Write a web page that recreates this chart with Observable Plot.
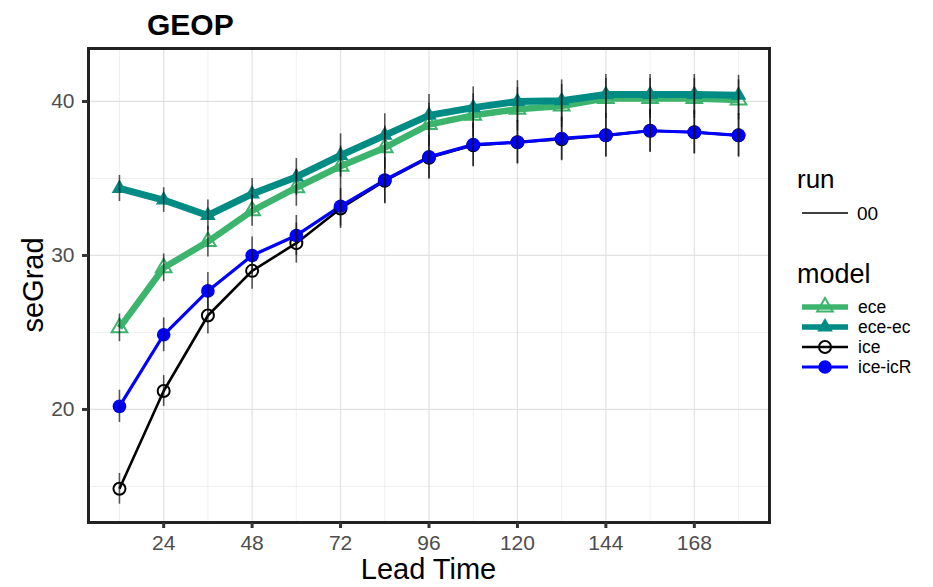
<!DOCTYPE html>
<html><head><meta charset="utf-8">
<script src="https://cdn.jsdelivr.net/npm/d3@7"></script>
<script src="https://cdn.jsdelivr.net/npm/@observablehq/plot@0.6"></script>
<style>
body{margin:0;background:#fff;font-family:"Liberation Sans",Arial,sans-serif;}
#wrap{position:relative;width:933px;height:587px;overflow:hidden;background:#fff;}
#title{position:absolute;left:147px;top:7px;font-weight:bold;font-size:30px;color:#000;line-height:36px;}
#xlab{position:absolute;left:88px;width:681px;text-align:center;top:553px;font-size:29px;color:#000;line-height:32px;}
#ylab{position:absolute;left:33px;top:285px;font-size:29px;color:#000;transform:translate(-50%,-50%) rotate(-90deg);white-space:nowrap;line-height:34px;}
#legend{position:absolute;left:780px;top:150px;}
</style></head><body>
<div id="wrap"><div id="chart"></div><div id="title">GEOP</div><div id="xlab">Lead Time</div><div id="ylab">seGrad</div><div id="legend"></div></div>
<script>
// ---- data ----
const leadTime = [12, 24, 36, 48, 60, 72, 84, 96, 108, 120, 132, 144, 156, 168, 180];
const models = ["ece", "ece-ec", "ice", "ice-icR"];
const runs = ["00"];
const ece      = [25.3, 29.2, 30.9, 32.9, 34.4, 35.8, 37.0, 38.5, 39.1, 39.5, 39.7, 40.2, 40.2, 40.2, 40.1];
const eceEc    = [34.35, 33.6, 32.6, 34.0, 35.1, 36.5, 37.8, 39.1, 39.6, 40.0, 40.05, 40.45, 40.45, 40.45, 40.4];
const ice      = [14.85, 21.2, 26.1, 29.0, 30.8, 33.05, 34.85, 36.35, 37.15, 37.35, 37.55, 37.8, 38.1, 38.0, 37.8];
const iceIcR   = [20.2, 24.85, 27.7, 30.0, 31.3, 33.2, 34.9, 36.4, 37.2, 37.35, 37.6, 37.8, 38.1, 38.0, 37.8];
const eceErr   = [0.9, 0.9, 1.0, 1.0, 1.2, 1.3, 1.4, 1.4, 1.4, 1.4, 1.4, 1.3, 1.3, 1.3, 1.3];
const eceEcErr = [0.85, 0.8, 1.0, 1.0, 1.2, 1.4, 1.4, 1.35, 1.35, 1.35, 1.35, 1.3, 1.3, 1.3, 1.3];
const iceErr   = [1.0, 1.0, 1.2, 1.2, 1.3, 1.3, 1.5, 1.4, 1.4, 1.4, 1.4, 1.4, 1.4, 1.4, 1.4];
const iceIcRErr= [1.05, 1.1, 1.2, 1.2, 1.3, 1.3, 1.5, 1.4, 1.4, 1.4, 1.4, 1.4, 1.4, 1.4, 1.4];
const xTicks = [24, 48, 72, 96, 120, 144, 168];
const xMinor = [12, 36, 60, 84, 108, 132, 156, 180];
const yTicks = [20, 30, 40];
const yMinor = [15, 25, 35];

// ---- styles ----
const styles = {
  "ece":     {color: "#3cb46e", lw: 6.5, symbol: "triangle", filled: false, r: 5.8},
  "ece-ec":  {color: "#008b84", lw: 7,   symbol: "triangle", filled: true,  r: 5.8},
  "ice":     {color: "#000000", lw: 2.6, symbol: "circle",   filled: false, r: 6},
  "ice-icR": {color: "#0000ff", lw: 3.2, symbol: "circle",   filled: true,  r: 6.8}
};
const values = {"ece": ece, "ece-ec": eceEc, "ice": ice, "ice-icR": iceIcR};
const errs = {"ece": eceErr, "ece-ec": eceEcErr, "ice": iceErr, "ice-icR": iceIcRErr};
const rows = models.flatMap(m => leadTime.map((t, i) => ({
  model: m, run: runs[0], t, v: values[m][i], lo: values[m][i] - errs[m][i], hi: values[m][i] + errs[m][i]
})));
const of = m => rows.filter(d => d.model === m);

const lineMarks = models.map(m => Plot.line(of(m), {x: "t", y: "v", stroke: styles[m].color, strokeWidth: styles[m].lw, strokeLinejoin: "round", strokeLinecap: "butt"}));
const dotMarks = models.map(m => {
  const s = styles[m];
  return Plot.dot(of(m), {x: "t", y: "v", symbol: s.symbol, r: s.r,
    fill: s.filled ? s.color : "none", stroke: s.filled ? "none" : s.color, strokeWidth: s.filled ? 0 : 2});
});

const plot = Plot.plot({
  width: 933, height: 587,
  marginLeft: 88, marginRight: 164, marginTop: 48, marginBottom: 65,
  x: {domain: [3.6, 188.4], label: null},
  y: {domain: [12.66, 43.44], label: null},
  style: {fontFamily: "Liberation Sans, Arial, sans-serif", fontSize: "21px", background: "#fff"},
  marks: [
    Plot.gridX(xMinor, {stroke: "#ececec", strokeOpacity: 1, strokeWidth: 0.8}),
    Plot.gridY(yMinor, {stroke: "#ececec", strokeOpacity: 1, strokeWidth: 0.8}),
    Plot.gridX(xTicks, {stroke: "#e2e2e2", strokeOpacity: 1, strokeWidth: 1.2}),
    Plot.gridY(yTicks, {stroke: "#e2e2e2", strokeOpacity: 1, strokeWidth: 1.2}),
    ...lineMarks,
    ...dotMarks,
    Plot.ruleX(rows, {x: "t", y1: "lo", y2: "hi", stroke: "#111", strokeOpacity: 0.7, strokeWidth: 1.6}),
    Plot.frame({stroke: "#222", strokeWidth: 3}),
    Plot.axisX(xTicks, {tickSize: 6, tickPadding: 7, stroke: "#333", strokeWidth: 3, fill: "#4d4d4d", label: null, tickFormat: d => String(d)}),
    Plot.axisY(yTicks, {tickSize: 6, tickPadding: 8, stroke: "#333", strokeWidth: 3, fill: "#4d4d4d", label: null})
  ]
});
document.getElementById("chart").appendChild(plot);

// ---- legend ----
const lg = d3.select("#legend").append("svg").attr("width", 153).attr("height", 240)
  .style("font-family", "Liberation Sans, Arial, sans-serif");
lg.append("text").attr("x", 17).attr("y", 38).attr("font-size", 26).text("run");
lg.append("line").attr("x1", 22).attr("x2", 68).attr("y1", 63).attr("y2", 63).attr("stroke", "#000").attr("stroke-width", 1.5);
lg.append("text").attr("x", 77).attr("y", 63).attr("dy", "0.35em").attr("font-size", 19).text(runs[0]);
lg.append("text").attr("x", 17).attr("y", 133).attr("font-size", 27).text("model");
const keyY = [157, 177, 197, 217];
models.forEach((m, i) => {
  const s = styles[m], y = keyY[i];
  lg.append("line").attr("x1", 22).attr("x2", 68).attr("y1", y).attr("y2", y)
    .attr("stroke", s.color).attr("stroke-width", Math.min(s.lw, 5.5));
  const sym = (s.symbol === "triangle" ? d3.symbol(d3.symbolTriangle, Math.PI * s.r * s.r) : d3.symbol(d3.symbolCircle, Math.PI * s.r * s.r))();
  lg.append("path").attr("d", sym).attr("transform", `translate(45,${y})`)
    .attr("fill", s.filled ? s.color : "none").attr("stroke", s.filled ? "none" : s.color).attr("stroke-width", 2);
  lg.append("text").attr("x", 78).attr("y", y).attr("dy", "0.35em").attr("font-size", 17.5).text(m);
});
</script>
</body></html>
